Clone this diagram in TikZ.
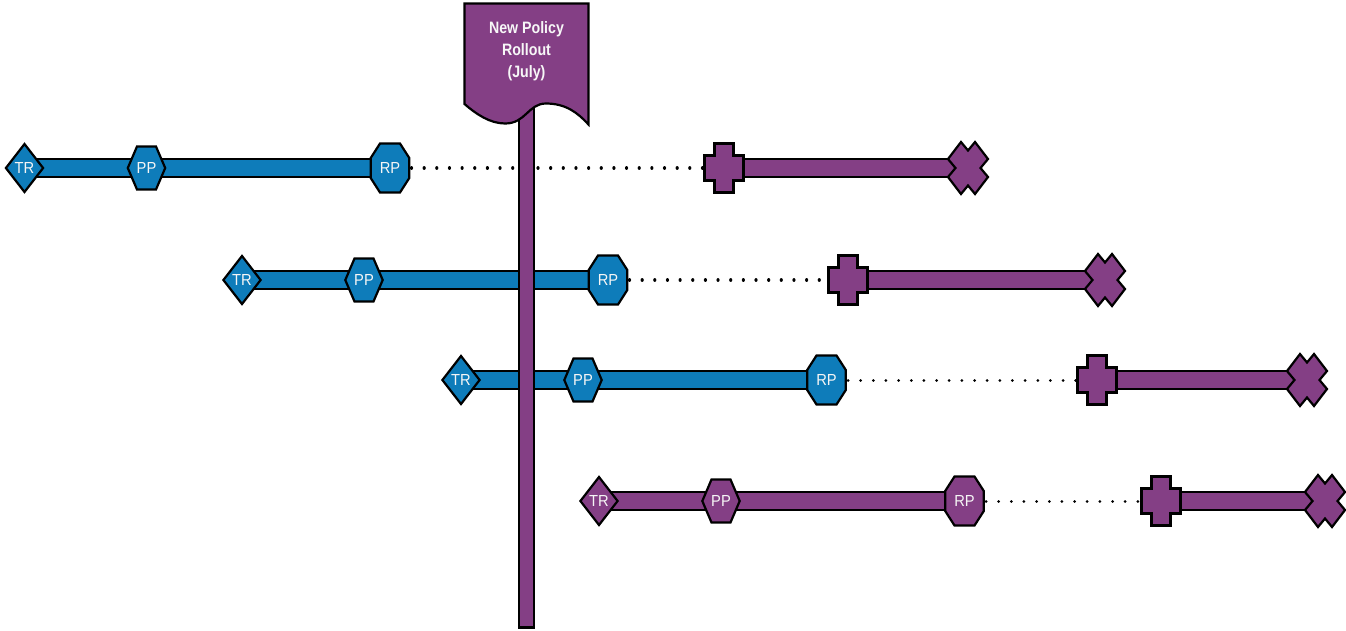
\documentclass[tikz,border=0pt]{standalone}
\usepackage{fontspec}
\setmainfont[FakeStretch=0.92]{Liberation Sans}
\newfontfamily\titlefont[FakeStretch=0.86]{Liberation Sans}
\pgfdeclarelayer{barlayer}
\pgfdeclarelayer{stemlayer}
\pgfsetlayers{barlayer,stemlayer,main}
\definecolor{pblue}{HTML}{0E7CBA}
\definecolor{ppurple}{HTML}{843F85}
\tikzset{
  x=1pt,y=-1pt,
  edge/.style={draw=black,line width=2.2pt,line join=miter,fill=#1},
  lbl/.style={inner sep=0pt,outer sep=0pt,text=white!96!black,font=\fontsize{16}{17}\selectfont,minimum height=20pt},
  trnode/.style={lbl,minimum width=39pt},
  ppnode/.style={lbl,minimum width=39pt},
  rpnode/.style={lbl,minimum width=41pt},
  plusnode/.style={lbl,minimum width=41pt},
  xnode/.style={lbl,minimum width=42pt},
  barout/.style={line width=20.2pt,draw=black},
  barin/.style={line width=16pt,draw=#1},
  dots/.style={line width=3.2pt,line cap=round,shorten <=1pt,dash pattern=on 0.01pt off 12.64pt},
  smalldots/.style={line width=3pt,line cap=round,shorten <=1pt,dash pattern=on 0.01pt off 12.64pt},
}
% #1 name, #2 x, #3 y, #4 colour
\newcommand{\shTR}[4]{\draw[edge=#4,shift={(#2,#3)}] (-18.6,0)--(0,-24)--(18.6,0)--(0,24)--cycle;
  \node[trnode] (#1) at (#2,#3) {TR};}
\newcommand{\shPP}[4]{\draw[edge=#4,shift={(#2,#3)}] (-18.7,0)--(-9.5,-21.5)--(9.5,-21.5)--(18.7,0)--(9.5,21.5)--(-9.5,21.5)--cycle;
  \node[ppnode] (#1) at (#2,#3) {PP};}
\newcommand{\shRP}[4]{\draw[edge=#4,shift={(#2,#3)}] (-19.3,-10)--(-10,-24.5)--(10,-24.5)--(19.3,-10)--(19.3,10)--(10,24.5)--(-10,24.5)--(-19.3,10)--cycle;
  \node[rpnode] (#1) at (#2,#3) {RP};}
\newcommand{\shPlus}[3]{\draw[edge=ppurple,shift={(#2,#3)}] (-9.5,-24.5)--(9.5,-24.5)--(9.5,-12.5)--(19.5,-12.5)--(19.5,12.5)--(9.5,12.5)--(9.5,24.5)--(-9.5,24.5)--(-9.5,12.5)--(-19.5,12.5)--(-19.5,-12.5)--(-9.5,-12.5)--cycle;
  \node[plusnode] (#1) at (#2,#3) {};}
\newcommand{\shX}[3]{\draw[edge=ppurple,shift={(#2,#3)}] (-7,-26)--(0,-17.5)--(7,-26)--(20,-9)--(12.5,0)--(20,9)--(7,26)--(0,17.5)--(-7,26)--(-20,9)--(-12.5,0)--(-20,-9)--cycle;
  \node[xnode] (#1) at (#2,#3) {};}
% row: #1 prefix, #2 y, #3 colour first part, #4 TR, #5 PP, #6 RP, #7 plus, #8 X, #9 dot style
\newcommand{\lane}[9]{
  \shTR{#1tr}{#4}{#2}{#3}\shPP{#1pp}{#5}{#2}{#3}\shRP{#1rp}{#6}{#2}{#3}
  \shPlus{#1pl}{#7}{#2}\shX{#1x}{#8}{#2}
  \begin{pgfonlayer}{barlayer}
    \draw[barout] (#1tr.center)--(#1rp.center);
    \draw[barin=#3] (#1tr.center)--(#1rp.center);
    \draw[barout] (#1pl.center)--(#1x.center);
    \draw[barin=ppurple] (#1pl.center)--(#1x.center);
    \draw[#9] (#1rp.east)--(#1pl.west);
  \end{pgfonlayer}
}
\begin{document}
\begin{tikzpicture}
\useasboundingbox (0,0) rectangle (1346,630);
\lane{a}{168}{pblue}{24.5}{146.5}{390}{724}{968}{dots}
\lane{b}{280}{pblue}{242}{364}{608}{848}{1105}{dots}
\lane{c}{380}{pblue}{461}{583}{826.5}{1097}{1307}{smalldots}
\lane{d}{501}{ppurple}{599}{721}{964.5}{1161}{1325}{smalldots}
% flag
\draw[edge=ppurple] (464.5,3.5)--(588.5,3.5)--(588.5,124.5)
  .. controls (578,113) and (566,103.5) .. (546,103.5)
  .. controls (528,103.5) and (526,123.5) .. (505,123.5)
  .. controls (490,123.5) and (476,114) .. (464.5,104) --cycle;
\node[inner sep=0pt,align=center,text=white!97!black,font=\titlefont\bfseries\fontsize{16.5}{22}\selectfont] (flag) at (526.5,51) {New Policy\\Rollout\\(July)};
\coordinate (stemend) at (526.5,628.5);
\begin{pgfonlayer}{stemlayer}
  \draw[line width=17.5pt,draw=black] (flag.center)--(stemend);
  \draw[line width=13.5pt,draw=ppurple,shorten >=2.2pt] (flag.center)--(stemend);
\end{pgfonlayer}
\end{tikzpicture}
\end{document}
